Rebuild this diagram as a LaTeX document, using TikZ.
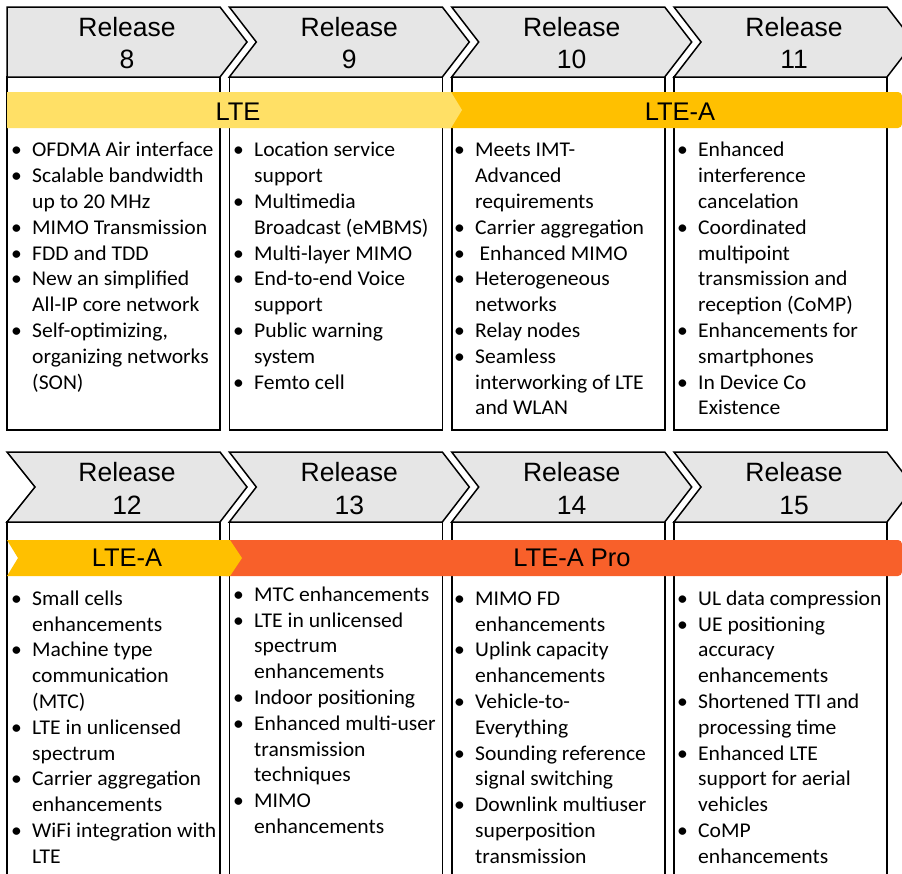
\documentclass[tikz,border=0pt]{standalone}
\usepackage{fontspec}
\setmainfont{Carlito}[FakeStretch=1.03]
\newfontfamily\arialfont{Liberation Sans}
\definecolor{chevgray}{HTML}{E6E6E6}
\definecolor{lteyellow}{HTML}{FFE066}
\definecolor{lteaorange}{HTML}{FFC000}
\definecolor{ltepro}{HTML}{F8602A}
% bullet marker and hanging indent for the feature lists
\newcommand{\bl}{\makebox[21pt][l]{\textbullet}}
\newcommand{\ind}{\hspace*{21pt}}
% release chevron: #1 left x, #2 top y, #3 depth of the left notch
\newcommand{\relchev}[3]{%
  \path[chev] (#1,#2) -- ++(213,0) -- ++(27,35) -- ++(-27,35) -- ++(-213,0) -- ++(#3,-35) -- cycle;}
\tikzset{
  chev/.style={fill=chevgray, draw=black, line width=1.5pt, line join=miter},
  colbox/.style={fill=white, draw=black, line width=1.6pt},
  reltext/.style={font=\arialfont\fontsize{26.5}{32.3}\selectfont, align=center, anchor=north, inner sep=0pt},
  bartext/.style={font=\arialfont\fontsize{25.5}{30}\selectfont, anchor=base, inner sep=0pt},
  items/.style={font=\fontsize{21}{25.8}\selectfont, align=left, anchor=north west, inner sep=0pt},
}
\begin{document}
\begin{tikzpicture}[x=1pt, y=-1pt]
\useasboundingbox (0,0) rectangle (902,873);
\clip (0,0) rectangle (902,873);

% ---------- upper row: releases 8 to 11 ----------
\foreach \l in {7,229.3,451.7,674} {
  \path[colbox] (\l,77) rectangle (\l+213,430);
}
\relchev{7}{7}{0}
\relchev{229.3}{7}{27}
\relchev{451.7}{7}{27}
\relchev{674}{7}{27}

\node[reltext] (r8)  at (127,13.2)   {\strut Release\\8};
\node[reltext] (r9)  at (349.3,13.2) {\strut Release\\9};
\node[reltext] (r10) at (571.7,13.2) {\strut Release\\10};
\node[reltext] (r11) at (794,13.2)   {\strut Release\\11};

% technology bars
\fill[lteaorange, rounded corners=4pt] (440,92) rectangle (902,128);
\fill[lteyellow] (7,92) -- (451,92) -- (462,110) -- (451,128) -- (7,128) -- cycle;
\node[bartext] (lte)  at (238,120.7) {LTE};
\node[bartext] (ltea) at (680,120.7) {LTE-A};

% feature lists
\node[items] (f8) at (11,138.6) {\strut\bl OFDMA Air interface\\
\bl Scalable bandwidth\\ \ind up to 20 MHz\\
\bl MIMO Transmission\\
\bl FDD and TDD\\
\bl New an simplified\\ \ind All-IP core network\\
\bl Self-optimizing,\\ \ind organizing networks\\ \ind (SON)};

\node[items] (f9) at (233,138.6) {\strut\bl Location service\\ \ind support\\
\bl Multimedia\\ \ind Broadcast (eMBMS)\\
\bl Multi-layer MIMO\\
\bl End-to-end Voice\\ \ind support\\
\bl Public warning\\ \ind system\\
\bl Femto cell};

\node[items] (f10) at (454,138.6) {\strut\bl Meets IMT-\\ \ind Advanced\\ \ind requirements\\
\bl Carrier aggregation\\
\bl \hspace{4.5pt}Enhanced MIMO\\
\bl Heterogeneous\\ \ind networks\\
\bl Relay nodes\\
\bl Seamless\\ \ind interworking of LTE\\ \ind and WLAN};

\node[items] (f11) at (677,138.6) {\strut\bl Enhanced\\ \ind interference\\ \ind cancelation\\
\bl Coordinated\\ \ind multipoint\\ \ind transmission and\\ \ind reception (CoMP)\\
\bl Enhancements for\\ \ind smartphones\\
\bl In Device Co\\ \ind Existence};

% ---------- lower row: releases 12 to 15 ----------
\foreach \l in {7,229.3,451.7,674} {
  \path[colbox] (\l,522) rectangle (\l+213,900);
}
\relchev{7}{452}{28}
\relchev{229.3}{452}{27}
\relchev{451.7}{452}{27}
\relchev{674}{452}{27}

\node[reltext] (r12) at (127,458.9)   {\strut Release\\12};
\node[reltext] (r13) at (349.3,458.9) {\strut Release\\13};
\node[reltext] (r14) at (571.7,458.9) {\strut Release\\14};
\node[reltext] (r15) at (794,458.9)   {\strut Release\\15};

% technology bars
\fill[ltepro, rounded corners=4pt] (222,540) rectangle (902,576);
\fill[lteaorange] (7,540) -- (230,540) -- (242,558) -- (230,576) -- (7,576) -- (18,558) -- cycle;
\node[bartext] (ltea2)  at (127,566.7) {LTE-A};
\node[bartext] (ltepro) at (572,566.7) {LTE-A Pro};

% feature lists
\node[items] (f12) at (11,587) {\strut\bl Small cells\\ \ind enhancements\\
\bl Machine type\\ \ind communication\\ \ind (MTC)\\
\bl LTE in unlicensed\\ \ind spectrum\\
\bl Carrier aggregation\\ \ind enhancements\\
\bl WiFi integration with\\ \ind LTE};

\node[items] (f13) at (233,583) {\strut\bl MTC enhancements\\
\bl LTE in unlicensed\\ \ind spectrum\\ \ind enhancements\\
\bl Indoor positioning\\
\bl Enhanced multi-user\\ \ind transmission\\ \ind techniques\\
\bl MIMO\\ \ind enhancements};

\node[items] (f14) at (454,587) {\strut\bl MIMO FD\\ \ind enhancements\\
\bl Uplink capacity\\ \ind enhancements\\
\bl Vehicle-to-\\ \ind Everything\\
\bl Sounding reference\\ \ind signal switching\\
\bl Downlink multiuser\\ \ind superposition\\ \ind transmission};

\node[items] (f15) at (677,587) {\strut\bl UL data compression\\
\bl UE positioning\\ \ind accuracy\\ \ind enhancements\\
\bl Shortened TTI and\\ \ind processing time\\
\bl Enhanced LTE\\ \ind support for aerial\\ \ind vehicles\\
\bl CoMP\\ \ind enhancements};
\end{tikzpicture}
\end{document}
